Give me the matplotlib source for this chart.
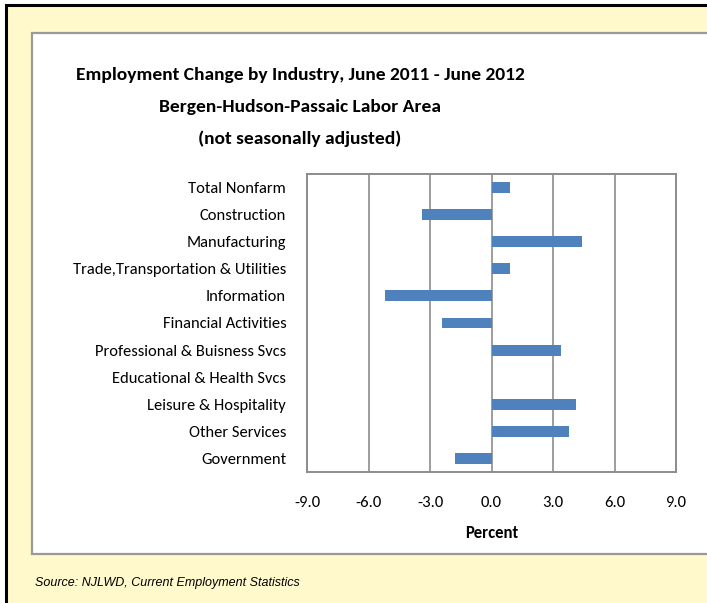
import matplotlib
matplotlib.use("Agg")
import matplotlib.pyplot as plt
from matplotlib.patches import Rectangle
from matplotlib import font_manager as fm

categories = ["Total Nonfarm", "Construction", "Manufacturing",
              "Trade,Transportation & Utilities", "Information",
              "Financial Activities", "Professional & Buisness Svcs",
              "Educational & Health Svcs", "Leisure & Hospitality",
              "Other Services", "Government"]
values = [0.9, -3.4, 4.4, 0.9, -5.2, -2.4, 3.4, 0.0, 4.1, 3.8, -1.8]
xticks = [-9.0, -6.0, -3.0, 0.0, 3.0, 6.0, 9.0]

W, H = 707, 603

# pick a narrow, Calibri-like family if one is installed
installed = {f.name for f in fm.fontManager.ttflist}
narrow = ["Carlito", "Liberation Sans Narrow", "Arial Narrow", "Roboto Condensed",
          "Open Sans Condensed", "PT Sans Narrow", "Fira Sans Condensed",
          "IBM Plex Sans Condensed", "Ubuntu Condensed", "Archivo Narrow"]
FONT = next((c for c in narrow if c in installed), None)
STRETCH = "normal"
if FONT is None:
    FONT = "Lato" if "Lato" in installed else "DejaVu Sans"
cond = [FONT, "DejaVu Sans"]

fig = plt.figure(figsize=(W / 100, H / 100), dpi=100)
fig.patch.set_facecolor("white")
renderer = fig.canvas.get_renderer()


def px(x, y, w, h):
    return (x / W, 1 - (y + h) / H, w / W, h / H)


def fit_size(text, target_px, base, weight="normal"):
    t = fig.text(0, 0, text, family=cond, fontsize=base, fontweight=weight, fontstretch=STRETCH)
    w = t.get_window_extent(renderer).width
    t.remove()
    return base * target_px / w


# black frame + yellow background
x0, y0, w0, h0 = px(6, 5, 720, 620)
fig.patches.append(Rectangle((x0, y0), w0, h0, transform=fig.transFigure,
                             facecolor="#FFF9CC", edgecolor="black", linewidth=2.2, zorder=0))
# white inner panel
x1, y1, w1, h1 = px(32, 33, 700, 521)
fig.patches.append(Rectangle((x1, y1), w1, h1, transform=fig.transFigure,
                             facecolor="white", edgecolor="#9a9a9a", linewidth=1.6, zorder=0.5))

lab_size = min(fit_size("Trade,Transportation & Utilities", 213, 12), 12)
tick_size = min(fit_size("-9.0", 26, 12), 12.5)
title_size = min(max(fit_size("Employment Change by Industry, June 2011 - June 2012", 363, 16, "bold"), 14), 16)

ax = fig.add_axes(px(307, 174, 369, 298))
ax.set_zorder(5)
ypos = list(range(len(categories)))
ax.barh(ypos, values, height=0.4, color="#4F81BD", zorder=3)
ax.set_ylim(len(categories) - 0.5, -0.5)
ax.set_xlim(-9, 9)
ax.set_xticks(xticks)
ax.set_xticklabels([f"{t:.1f}" for t in xticks], family=cond, fontsize=tick_size, fontstretch=STRETCH)
ax.set_yticks(ypos)
ax.set_yticklabels(categories, family=cond, fontsize=lab_size, fontstretch=STRETCH)
ax.tick_params(axis="both", length=0)
ax.tick_params(axis="x", pad=17)
ax.tick_params(axis="y", pad=15)
ax.xaxis.grid(True, color="#8c8c8c", linewidth=1.2, zorder=1)
ax.set_axisbelow(True)
for s in ax.spines.values():
    s.set_color("#8c8c8c")
    s.set_linewidth(1.4)
ax.set_xlabel("Percent", family=cond, fontsize=tick_size, fontweight="bold",
              fontstretch=STRETCH, labelpad=11)

title_lines = ["Employment Change by Industry, June 2011 - June 2012",
               "Bergen-Hudson-Passaic Labor Area",
               "(not seasonally adjusted)"]
for i, line in enumerate(title_lines):
    fig.text(300 / W, 1 - (75 + 32 * i) / H, line, ha="center", va="center",
             family=cond, fontsize=title_size, fontweight="bold", fontstretch=STRETCH, zorder=6)

fig.text(35 / W, 1 - 583 / H, "Source: NJLWD, Current Employment Statistics",
         ha="left", va="center", family=["Liberation Sans", "DejaVu Sans"],
         fontsize=9, style="italic", zorder=6)

fig.savefig("out.png", dpi=100, facecolor=fig.get_facecolor())
